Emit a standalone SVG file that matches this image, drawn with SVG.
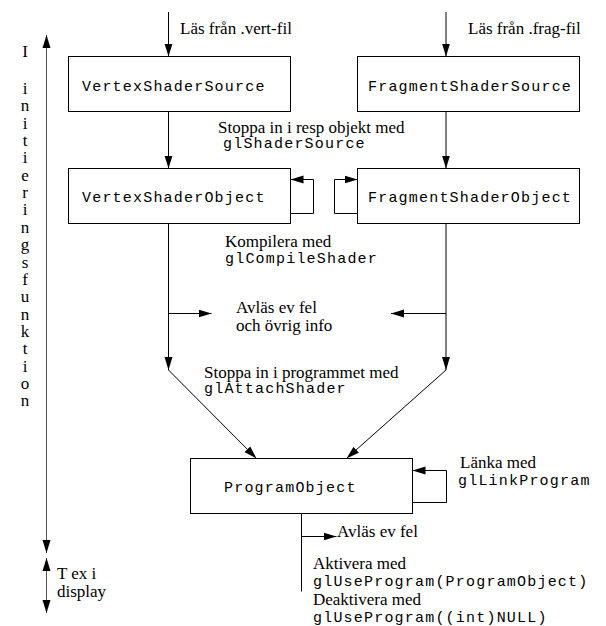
<svg xmlns="http://www.w3.org/2000/svg" width="606" height="626" viewBox="0 0 606 626">
<defs>
<marker id="ah" markerUnits="userSpaceOnUse" markerWidth="14" markerHeight="10" viewBox="0 0 14 10" refX="13" refY="5" orient="auto-start-reverse">
<path d="M0,1 L13,5 L0,9 Z" fill="#000"/>
</marker>
<style>
.box{fill:#fff;stroke:#000;stroke-width:1}
.mono{font-family:"Liberation Mono","Courier New",monospace;font-size:15px;letter-spacing:1.2px;fill:#000}
.serif{font-family:"Liberation Serif","Times New Roman",serif;font-size:17px;fill:#000}
.c{fill:none;stroke:#000;stroke-width:1}
.arr{marker-end:url(#ah)}
.axis{fill:none;stroke:#555;stroke-width:1;marker-start:url(#ah);marker-end:url(#ah)}
</style>
</defs>
<rect width="606" height="626" fill="#fff"/>

<g id="connectors">
<path class="c arr" d="M168.5,12 V56.5"/>
<path class="c arr" d="M446,12 V56.5"/>
<path class="c arr" d="M168.5,111.5 V168.5"/>
<path class="c arr" d="M446,111.5 V168.5"/>
<path class="c arr" d="M290.5,213.5 H313.5 V179.5 H290.5"/>
<path class="c arr" d="M357.5,213.5 H334.5 V179.5 H357.5"/>
<path class="c arr" d="M168.5,223.5 V370"/>
<path class="c arr" d="M168.5,313.5 H211.5"/>
<path class="c arr" d="M446,223.5 V370"/>
<path class="c arr" d="M446,313.5 H391"/>
<path class="c arr" d="M168.5,370 L256.5,458.5"/>
<path class="c arr" d="M446,370 L346.5,458.5"/>
<path class="c arr" d="M412.5,502.5 H446.5 V470.5 H412.5"/>
<path class="c" d="M301.5,513.5 V591.5"/>
<path class="c arr" d="M301.5,536.5 H336.5"/>
<path class="axis" d="M46.5,553 V35"/>
<path class="axis" d="M46.5,558 V613"/>
</g>

<g id="vertexShaderSource">
<rect class="box" x="68.5" y="56.5" width="222" height="55"/>
<text class="mono" x="82" y="91">VertexShaderSource</text>
</g>
<g id="fragmentShaderSource">
<rect class="box" x="357.5" y="56.5" width="222" height="55"/>
<text class="mono" x="368" y="91">FragmentShaderSource</text>
</g>
<g id="vertexShaderObject">
<rect class="box" x="68.5" y="168.5" width="222" height="55"/>
<text class="mono" x="82" y="202">VertexShaderObject</text>
</g>
<g id="fragmentShaderObject">
<rect class="box" x="357.5" y="168.5" width="222" height="55"/>
<text class="mono" x="368" y="202">FragmentShaderObject</text>
</g>
<g id="programObject">
<rect class="box" x="190.5" y="458.5" width="222" height="55"/>
<text class="mono" x="224" y="492">ProgramObject</text>
</g>

<g id="labels">
<text class="serif" x="180" y="34">Läs från .vert-fil</text>
<text class="serif" x="468" y="34">Läs från .frag-fil</text>
<text class="serif" x="218" y="133">Stoppa in i resp objekt med</text>
<text class="mono" x="223" y="148">glShaderSource</text>
<text class="serif" x="225" y="247">Kompilera med</text>
<text class="mono" x="225" y="263">glCompileShader</text>
<text class="serif" x="236" y="313">Avläs ev fel</text>
<text class="serif" x="236" y="331">och övrig info</text>
<text class="serif" x="204" y="378">Stoppa in i programmet med</text>
<text class="mono" x="204" y="393">glAttachShader</text>
<text class="serif" x="460" y="468">Länka med</text>
<text class="mono" x="458" y="485">glLinkProgram</text>
<text class="serif" x="337" y="537">Avläs ev fel</text>
<text class="serif" x="313" y="569">Aktivera med</text>
<text class="mono" x="313" y="586">glUseProgram(ProgramObject)</text>
<text class="serif" x="313" y="605">Deaktivera med</text>
<text class="mono" x="313" y="622">glUseProgram((int)NULL)</text>
<text class="serif" x="57" y="579">T ex i</text>
<text class="serif" x="57" y="597">display</text>
</g>

<g id="axisLabel" class="serif" text-anchor="middle">
<text x="25" y="57">I</text>
<text x="25" y="94">i</text>
<text x="25" y="111.4">n</text>
<text x="25" y="128.7">i</text>
<text x="25" y="146">t</text>
<text x="25" y="163.4">i</text>
<text x="25" y="180.8">e</text>
<text x="25" y="198.1">r</text>
<text x="25" y="215.4">i</text>
<text x="25" y="232.8">n</text>
<text x="25" y="250.2">g</text>
<text x="25" y="267.5">s</text>
<text x="25" y="284.8">f</text>
<text x="25" y="302.2">u</text>
<text x="25" y="319.6">n</text>
<text x="25" y="336.9">k</text>
<text x="25" y="354.2">t</text>
<text x="25" y="371.6">i</text>
<text x="25" y="389">o</text>
<text x="25" y="406.3">n</text>
</g>
</svg>
